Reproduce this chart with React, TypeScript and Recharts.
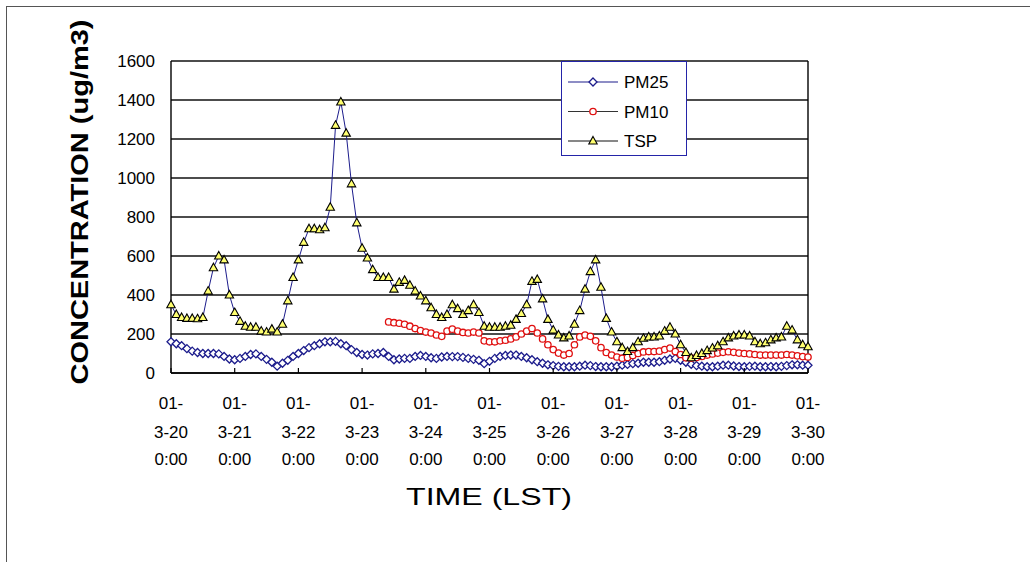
import { CartesianGrid, Line, LineChart, ReferenceLine, XAxis, YAxis } from "recharts";

// hourly index, one point every 2 hours from 01-3-20 0:00 to 01-3-30 0:00
const HOURS = Array.from({ length: 121 }, (_, i) => i * 2);

const PM25 = [
  160, 150, 140, 125, 112, 105, 100, 100, 100, 98, 85, 72,
  68, 75, 85, 95, 98, 85, 70, 55, 35, 50, 65, 85,
  100, 115, 130, 140, 150, 160, 160, 162, 150, 140, 120, 105,
  95, 92, 98, 100, 105, 85, 68, 72, 75, 75, 85, 90,
  85, 78, 75, 82, 85, 84, 84, 80, 75, 70, 65, 48,
  60, 75, 85, 90, 92, 92, 85, 78, 68, 58, 50, 42,
  38, 34, 32, 32, 32, 35, 40, 38, 33, 32, 32, 32,
  35, 40, 44, 48, 50, 55, 55, 55, 58, 65, 72, 75,
  65, 55, 45, 38, 35, 32, 32, 35, 40, 40, 36, 33,
  32, 34, 35, 32, 32, 33, 32, 34, 38, 42, 42, 40,
  40,
];

// PM10 record begins at 3-23 10:00 (hour 82)
const PM10_START = 82;
const PM10 = [
  262, 258, 255, 250, 240, 228, 218,
  210, 205, 195, 188, 215, 225, 215, 208, 205, 210, 205, 165,
  160, 160, 165, 168, 175, 185, 200, 215, 228, 205, 175, 145,
  120, 102, 92, 100, 145, 185, 195, 188, 165, 130, 105, 92,
  82, 76, 80, 90, 100, 108, 110, 110, 112, 120, 128, 110,
  95, 78, 76, 80, 85, 92, 98, 102, 106, 109, 106, 102,
  100, 98, 95, 92, 92, 92, 92, 92, 95, 92, 88, 84,
  82,
];

const TSP = [
  350, 300, 285, 280, 280, 278, 285, 420, 540, 600, 580, 400,
  310, 265, 240, 235, 235, 215, 210, 225, 210, 250, 370, 490,
  580, 670, 740, 740, 735, 745, 850, 1270, 1390, 1230, 970, 770,
  640, 590, 530, 490, 490, 490, 430, 465, 475, 450, 420, 395,
  370, 335, 300, 285, 300, 350, 330, 300, 320, 350, 310, 240,
  235, 235, 235, 240, 245, 275, 305, 350, 470, 480, 380, 275,
  220, 195, 180, 190, 250, 320, 430, 520, 580, 440, 280, 210,
  160, 130, 110, 130, 160, 178, 185, 185, 190, 215, 235, 200,
  145, 105, 78, 90, 100, 115, 128, 140, 160, 180, 190, 195,
  195, 190, 160, 150, 155, 170, 180, 185, 240, 220, 170, 145,
  135,
];

const DAY_TICKS = [0, 24, 48, 72, 96, 120, 144, 168, 192, 216, 240];
const DAY_LABELS = ["3-20", "3-21", "3-22", "3-23", "3-24", "3-25", "3-26", "3-27", "3-28", "3-29", "3-30"];
const Y_TICKS = [0, 200, 400, 600, 800, 1000, 1200, 1400, 1600];

const data = HOURS.map((h, i) => ({
  h,
  pm25: PM25[i],
  pm10: h >= PM10_START ? PM10[(h - PM10_START) / 2] : null,
  tsp: TSP[i],
}));

const FONT = "'Liberation Sans', Arial, sans-serif";
const NAVY = "#1c1c8c";

const diamondDot = (p: any) => {
  const { cx, cy, index } = p;
  if (cx == null || cy == null) return <g key={`d${index}`} />;
  return (
    <polygon
      key={`d${index}`}
      points={`${cx},${cy - 4} ${cx + 4},${cy} ${cx},${cy + 4} ${cx - 4},${cy}`}
      fill="#fff"
      stroke={NAVY}
      strokeWidth={1.3}
    />
  );
};

const circleDot = (p: any) => {
  const { cx, cy, index } = p;
  if (cx == null || cy == null) return <g key={`c${index}`} />;
  return <circle key={`c${index}`} cx={cx} cy={cy} r={3.2} fill="#fff" stroke="#e01010" strokeWidth={1.3} />;
};

const triangleDot = (p: any) => {
  const { cx, cy, index } = p;
  if (cx == null || cy == null) return <g key={`t${index}`} />;
  return (
    <polygon
      key={`t${index}`}
      points={`${cx},${cy - 4.5} ${cx + 4.2},${cy + 3} ${cx - 4.2},${cy + 3}`}
      fill="#ffff70"
      stroke="#000"
      strokeWidth={1.1}
    />
  );
};

const DayTick = (p: any) => {
  const { x, y, payload, index } = p;
  const label = DAY_LABELS[index] ?? DAY_LABELS[DAY_TICKS.indexOf(payload.value)];
  return (
    <g>
      <line x1={x} x2={x} y1={y} y2={y - 5} stroke="#000" strokeWidth={1.2} />
      <text textAnchor="middle" fontFamily={FONT} fontSize={17} fill="#000">
        <tspan x={x} y={y + 36}>01-</tspan>
        <tspan x={x} y={y + 65}>{label}</tspan>
        <tspan x={x} y={y + 92}>0:00</tspan>
      </text>
    </g>
  );
};

const LEGEND = [
  { name: "PM25", line: NAVY, marker: "diamond" },
  { name: "PM10", line: "#333", marker: "circle" },
  { name: "TSP", line: "#111", marker: "triangle" },
];

export default function App() {
  return (
    <div style={{ position: "fixed", left: 0, top: 0, width: 1030, height: 562, overflow: "hidden", background: "#fff" }}>
      <div
        style={{
          position: "absolute",
          left: 6,
          top: 6,
          width: 1100,
          height: 700,
          borderTop: "1px solid #555",
          borderLeft: "1px solid #555",
        }}
      />
      <div style={{ position: "absolute", left: 0, top: 0 }}>
        <LineChart width={1030} height={562} data={data} margin={{ top: 61, right: 222, bottom: 89, left: 111 }}>
          <CartesianGrid vertical={false} stroke="#111" strokeWidth={1.4} />
          <XAxis
            dataKey="h"
            type="number"
            domain={[0, 240]}
            ticks={DAY_TICKS}
            interval={0}
            height={100}
            tickSize={0}
            tickMargin={0}
            tickLine={false}
            axisLine={{ stroke: "#000", strokeWidth: 1.4 }}
            tick={<DayTick />}
          />
          <YAxis
            domain={[0, 1600]}
            ticks={Y_TICKS}
            interval={0}
            width={60}
            tickLine={false}
            tickSize={6}
            tickMargin={10}
            axisLine={{ stroke: "#000", strokeWidth: 1.4 }}
            tick={{ fontFamily: FONT, fontSize: 17, fill: "#000" }}
          />
          <ReferenceLine x={240} stroke="#000" strokeWidth={1.4} />
          <Line
            dataKey="pm25"
            stroke={NAVY}
            strokeWidth={1}
            dot={diamondDot}
            activeDot={false}
            isAnimationActive={false}
          />
          <Line
            dataKey="pm10"
            stroke="#e01010"
            strokeWidth={1}
            dot={circleDot}
            activeDot={false}
            isAnimationActive={false}
          />
          <Line
            dataKey="tsp"
            stroke={NAVY}
            strokeWidth={1}
            dot={triangleDot}
            activeDot={false}
            isAnimationActive={false}
          />
        </LineChart>
      </div>
      <div
        style={{
          position: "absolute",
          left: 561,
          top: 61,
          width: 124,
          height: 93,
          background: "#fff",
          border: "1.5px solid #2424a8",
        }}
      >
        <svg width={124} height={93}>
          {LEGEND.map((e, i) => {
            const cy = 20 + i * 29.5;
            const cx = 31;
            return (
              <g key={e.name}>
                <line x1={6} x2={56} y1={cy} y2={cy} stroke={e.line} strokeWidth={1.2} />
                {e.marker === "diamond" && diamondDot({ cx, cy, index: "l" + i })}
                {e.marker === "circle" && circleDot({ cx, cy, index: "l" + i })}
                {e.marker === "triangle" && triangleDot({ cx, cy, index: "l" + i })}
                <text x={62} y={cy + 6} fontFamily={FONT} fontSize={17} fill="#000">
                  {e.name}
                </text>
              </g>
            );
          })}
        </svg>
      </div>
      <svg width={1030} height={562} style={{ position: "absolute", left: 0, top: 0, pointerEvents: "none" }}>
        <text
          transform="translate(80 202) rotate(-90)"
          textAnchor="middle"
          dominantBaseline="central"
          fontFamily={FONT}
          fontWeight="bold"
          fontSize={23}
          textLength={365}
          lengthAdjust="spacingAndGlyphs"
          fill="#000"
        >
          CONCENTRATION (ug/m3)
        </text>
        <text
          x={489}
          y={496}
          textAnchor="middle"
          dominantBaseline="central"
          fontFamily={FONT}
          fontSize={24}
          textLength={166}
          lengthAdjust="spacingAndGlyphs"
          fill="#000"
        >
          TIME (LST)
        </text>
      </svg>
    </div>
  );
}
